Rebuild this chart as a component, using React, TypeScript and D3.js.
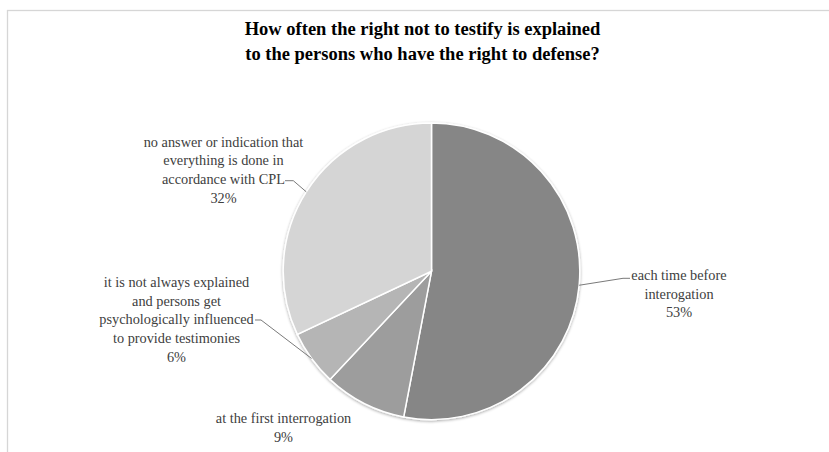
import React from "react";
import * as d3 from "d3";

const categories = [
  "each time before interogation",
  "at the first interrogation",
  "it is not always explained and persons get psychologically influenced to provide testimonies",
  "no answer or indication that everything is done in accordance with CPL",
];
const values = [53, 9, 6, 32];
const labelLines = [
  ["each time before", "interogation", "53%"],
  ["at the first interrogation", "9%"],
  ["it is not always explained", "and persons get", "psychologically influenced", "to provide testimonies", "6%"],
  ["no answer or indication that", "everything is done in", "accordance with CPL", "32%"],
];
const colors = ["#868686", "#9d9d9d", "#b5b5b5", "#d5d5d5"];
const titleLines = [
  "How often the right not to testify is explained",
  "to the persons who have the right to defense?",
];

// label layout relative to pie centre: text centre x, first baseline y, leader elbow and end
const labelLayout = [
  { tx: 247.5, ty: 9, elbow: [191.5, 7], end: [198.5, 7] },
  { tx: -148, ty: 152, elbow: null, end: null },
  { tx: -255, ty: 16, elbow: [-170.5, 48.7], end: [-176.5, 48.7] },
  { tx: -208, ty: -124.5, elbow: [-138.2, -90.6], end: [-146.5, -90.6] },
];

const FONT = "Liberation Serif";

export default function App() {
  const W = 829;
  const H = 452;
  const cx = 431.5;
  const cy = 271.3;
  const r = 148.3;
  const pie = d3
    .pie<number>()
    .sort(null)
    .value((d) => d)
    .startAngle(0)
    .endAngle(2 * Math.PI);
  const arcs = pie(values);
  const arc = d3.arc<d3.PieArcDatum<number>>().innerRadius(0).outerRadius(r);
  const lineH = 18.6;

  return (
    <svg
      width={W}
      height={H}
      style={{ position: "absolute", left: 0, top: 0, background: "#fff", fontFamily: FONT }}
    >
      <defs>
        <filter id="sh" x="-20%" y="-20%" width="140%" height="140%">
          <feGaussianBlur in="SourceAlpha" stdDeviation="1.5" />
          <feOffset dx="0" dy="1" result="b" />
          <feComponentTransfer>
            <feFuncA type="linear" slope="0.35" />
          </feComponentTransfer>
          <feMerge>
            <feMergeNode />
            <feMergeNode in="SourceGraphic" />
          </feMerge>
        </filter>
      </defs>
      <rect x={7.5} y={10.5} width={W + 10} height={H + 10} fill="#fff" stroke="#d6d6d6" strokeWidth={1.3} />
      {titleLines.map((t, i) => (
        <text
          key={i}
          x={422.5}
          y={35 + i * 25}
          textAnchor="middle"
          fontWeight="bold"
          fontSize={18.5}
          fill="#000"
          style={{ fontFamily: FONT }}
        >
          {t}
        </text>
      ))}
      <g transform={`translate(${cx},${cy})`}>
        <g filter="url(#sh)">
          {arcs.map((a, i) => (
            <path key={i} d={arc(a) || ""} fill={colors[i]} stroke="#fff" strokeWidth={1.5} />
          ))}
        </g>
        {arcs.map((a, i) => {
          const L = labelLayout[i];
          const mid = (a.startAngle + a.endAngle) / 2;
          const px = Math.sin(mid) * r;
          const py = -Math.cos(mid) * r;
          return (
            <g key={i}>
              {L.elbow && (
                <polyline
                  points={`${px},${py} ${L.elbow[0]},${L.elbow[1]} ${L.end![0]},${L.end![1]}`}
                  fill="none"
                  stroke="#7a7a7a"
                  strokeWidth={1}
                />
              )}
              {labelLines[i].map((ln, j) => (
                <text
                  key={j}
                  x={L.tx}
                  y={L.ty + j * lineH}
                  textAnchor="middle"
                  fontSize={14.3}
                  fill="#404040"
                  style={{ fontFamily: FONT }}
                >
                  {ln}
                </text>
              ))}
            </g>
          );
        })}
      </g>
    </svg>
  );
}
